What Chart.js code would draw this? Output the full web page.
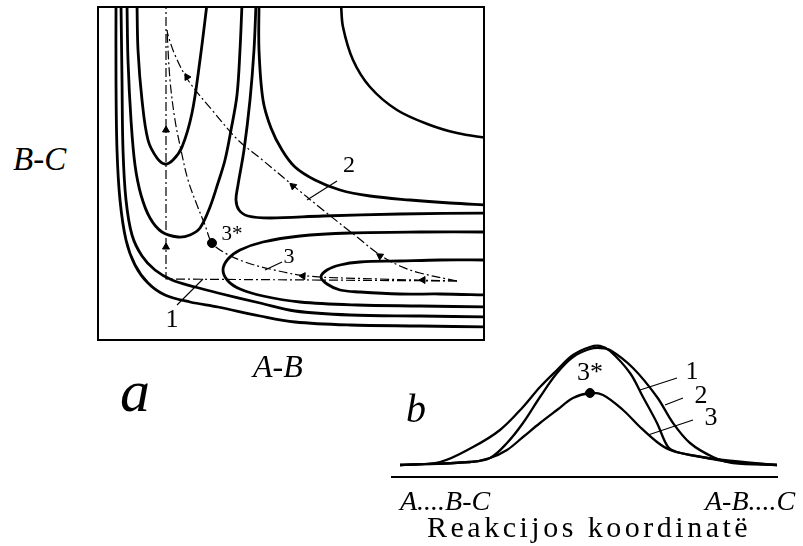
<!DOCTYPE html>
<html>
<head>
<meta charset="utf-8">
<script src="https://cdn.jsdelivr.net/npm/chart.js@4.4.1/dist/chart.umd.min.js"></script>
<style>
  body { margin: 0; background: #fff; }
  #wrap { position: relative; width: 803px; height: 546px; overflow: hidden;
          font-family: "Liberation Serif", "Times New Roman", serif; color: #000; }
  canvas { position: absolute; }
  #surface { left: 90px; top: 0; }
  #profile { left: 385px; top: 330px; }
  .t { position: absolute; line-height: 1; white-space: nowrap; }
  .it { font-style: italic; }
  .c { transform: translate(-50%, -50%); }
</style>
</head>
<body>
<div id="wrap">
  <canvas id="surface" width="400" height="350"></canvas>
  <canvas id="profile" width="400" height="160"></canvas>

  <div class="t it" style="left:13px;top:143px;font-size:33px">B-C</div>
  <div class="t it" style="left:253px;top:350px;font-size:32px">A-B</div>
  <div class="t it" style="left:120px;top:361px;font-size:60px">a</div>
  <div class="t c" style="left:172px;top:319px;font-size:26px">1</div>
  <div class="t c" style="left:349px;top:164px;font-size:24px">2</div>
  <div class="t c" style="left:289px;top:256px;font-size:22px">3</div>
  <div class="t c" style="left:232px;top:233px;font-size:21px">3*</div>

  <div class="t it" style="left:406px;top:389px;font-size:40px">b</div>
  <div class="t c" style="left:590px;top:372px;font-size:26px">3*</div>
  <div class="t c" style="left:692px;top:371px;font-size:26px">1</div>
  <div class="t c" style="left:701px;top:395px;font-size:26px">2</div>
  <div class="t c" style="left:711px;top:417px;font-size:26px">3</div>
  <div class="t it" style="left:400px;top:487px;font-size:28px">A....B-C</div>
  <div class="t it" style="left:705px;top:487px;font-size:28px">A-B....C</div>
  <div class="t" style="left:427px;top:512px;font-size:30px;letter-spacing:3.5px">Reakcijos koordinatë</div>
</div>

<script>
// (a) energy contours: A-B distance across, B-C distance up
const innerWellBC = [[39,336],[40,290],[44,240],[50,200],[59,182],[67,176],[75,180],[84,193],[94,227],[102,280],[109,336]];
const outerWellBC = [[29,336],[30,280],[33,220],[37,175],[43,145],[52,122],[64,108],[80,103],[92,105],[102,112],[112,133],[120,157],[127,180],[133,210],[139,245],[142,290],[144,336]];
const innerWellAB = [[389,80],[342,80],[302,79],[262,78],[242,75],[229,70],[223,63],[229,56],[242,50],[262,48],[302,46],[342,46],[389,45]];
const outerWellAB = [[389,108],[322,108],[252,107],[202,104],[165,98],[142,90],[130,81],[125,70],[130,59],[142,51],[165,44],[202,38],[259,35],[322,34],[389,33]];
const wallLow = [[23,336],[24,260],[25,190],[28,140],[34,105],[44,84],[57,70],[74,60],[97,53],[120,47],[162,37],[197,29],[252,25],[322,24],[389,23]];
const wallHigh = [[18,336],[18,260],[19,190],[22,140],[28,100],[37,75],[50,57],[67,45],[92,38],[120,33],[162,24],[197,18],[252,15],[322,14],[389,13]];
const colLine = [[158,336],[156,290],[152,240],[146,190],[140,155],[138,140],[141,130],[150,124],[172,122],[225,124],[302,126],[389,127]];
const ridgeLine = [[161,336],[161,290],[165,240],[173,212],[184,190],[197,173],[217,160],[242,150],[272,144],[312,140],[352,137],[389,135]];
const plateauLine = [[243,336],[245,313],[255,280],[272,253],[299,230],[332,215],[359,207],[389,202]];

// reaction paths 1-3
const path1 = [[359,59],[68,61],[68,333]];
const path2 = [[359,59],[322,67],[302,74],[282,85],[259,103],[225,130],[192,157],[162,182],[140,200],[114,230],[90,260],[77,285],[70,305],[69,310]];
const path3 = [[359,59],[282,61],[209,64],[172,71],[147,78],[127,87],[114,97],[107,115],[99,135],[90,160],[83,190],[77,220],[72,260],[69,310]];
const saddle = [[114,97]];
// arrow heads: x, y, rotation (deg)
const arrowHeads = [[68,210,0],[68,93,0],[325,60,-90],[205,64,-86],[282,84,-56],[195,154,-50],[89,263,-30]];
const leadersA = [[[79,35],[105,61]], [[209,140],[239,159]], [[167,70],[184,78]]];

// (b) energy along the reaction coordinate
const profile1 = [[8,12],[48,15],[81,30],[108,47],[131,70],[148,90],[165,107],[181,122],[198,130],[208,131],[218,126],[238,104],[251,80],[265,54],[276,30],[285,25],[315,19],[338,15],[368,13],[385,12]];
const profile2 = [[8,12],[78,15],[98,19],[115,34],[131,54],[148,80],[165,104],[181,120],[198,128],[208,129],[218,127],[241,109],[265,80],[281,54],[298,34],[321,20],[341,14],[385,12]];
const profile3 = [[8,12],[78,15],[98,19],[115,27],[131,40],[148,54],[165,67],[181,79],[198,84],[211,82],[231,67],[248,50],[265,35],[278,27],[298,22],[331,17],[385,12]];
const profileTop = [[198,84]];
const leadersB = [[[248,87],[285,99]], [[273,72],[291,79]], [[256,42],[301,57]]];

const pts = arr => arr.map(([x, y]) => ({ x, y }));

const curve = (arr, width) => ({
  data: pts(arr), showLine: true, borderColor: '#000', borderWidth: width,
  pointRadius: 0, tension: 0.35, fill: false
});
const dashed = (arr, tension) => ({
  data: pts(arr), showLine: true, borderColor: '#000', borderWidth: 1.2,
  borderDash: [9, 3, 2, 3], pointRadius: 0, tension, fill: false
});
const thin = arr => ({
  data: pts(arr), showLine: true, borderColor: '#000', borderWidth: 1.1,
  pointRadius: 0, tension: 0, fill: false
});
const dot = arr => ({
  data: pts(arr), showLine: false, pointRadius: 4.5,
  pointBackgroundColor: '#000', pointBorderColor: '#000'
});

function axis(position, max, border) {
  return {
    type: 'linear', position, min: 0, max,
    ticks: { display: false },
    grid: { display: false, drawTicks: false },
    border: { display: border, color: '#000', width: 2 }
  };
}

const baseOptions = (padding, scales) => ({
  responsive: false, animation: false, events: [],
  layout: { padding },
  plugins: { legend: { display: false }, tooltip: { enabled: false } },
  scales
});

new Chart(document.getElementById('surface'), {
  type: 'scatter',
  data: {
    datasets: [
      curve(innerWellBC, 2.8), curve(outerWellBC, 2.8),
      curve(innerWellAB, 2.8), curve(outerWellAB, 2.8),
      curve(wallLow, 2.8), curve(wallHigh, 2.8),
      curve(colLine, 2.8), curve(ridgeLine, 2.8), curve(plateauLine, 2.6),
      dashed(path1, 0), dashed(path2, 0.35), dashed(path3, 0.35),
      ...leadersA.map(thin),
      {
        data: pts(arrowHeads), showLine: false, pointStyle: 'triangle', pointRadius: 4,
        pointRotation: arrowHeads.map(a => a[2]),
        pointBackgroundColor: '#000', pointBorderColor: '#000', pointBorderWidth: 1
      },
      dot(saddle)
    ]
  },
  options: baseOptions({ left: 8, top: 7, right: 6, bottom: 10 }, {
    x: axis('bottom', 386, true),
    x2: axis('top', 386, true),
    y: axis('left', 333, true),
    y2: axis('right', 333, true)
  })
});

new Chart(document.getElementById('profile'), {
  type: 'scatter',
  data: {
    datasets: [
      curve(profile1, 2.3), curve(profile2, 2.3), curve(profile3, 2.3),
      ...leadersB.map(thin),
      dot(profileTop)
    ]
  },
  options: baseOptions({ left: 7, top: 10, right: 8, bottom: 13 }, {
    x: axis('bottom', 385, true),
    y: axis('left', 137, false)
  })
});
</script>
</body>
</html>
